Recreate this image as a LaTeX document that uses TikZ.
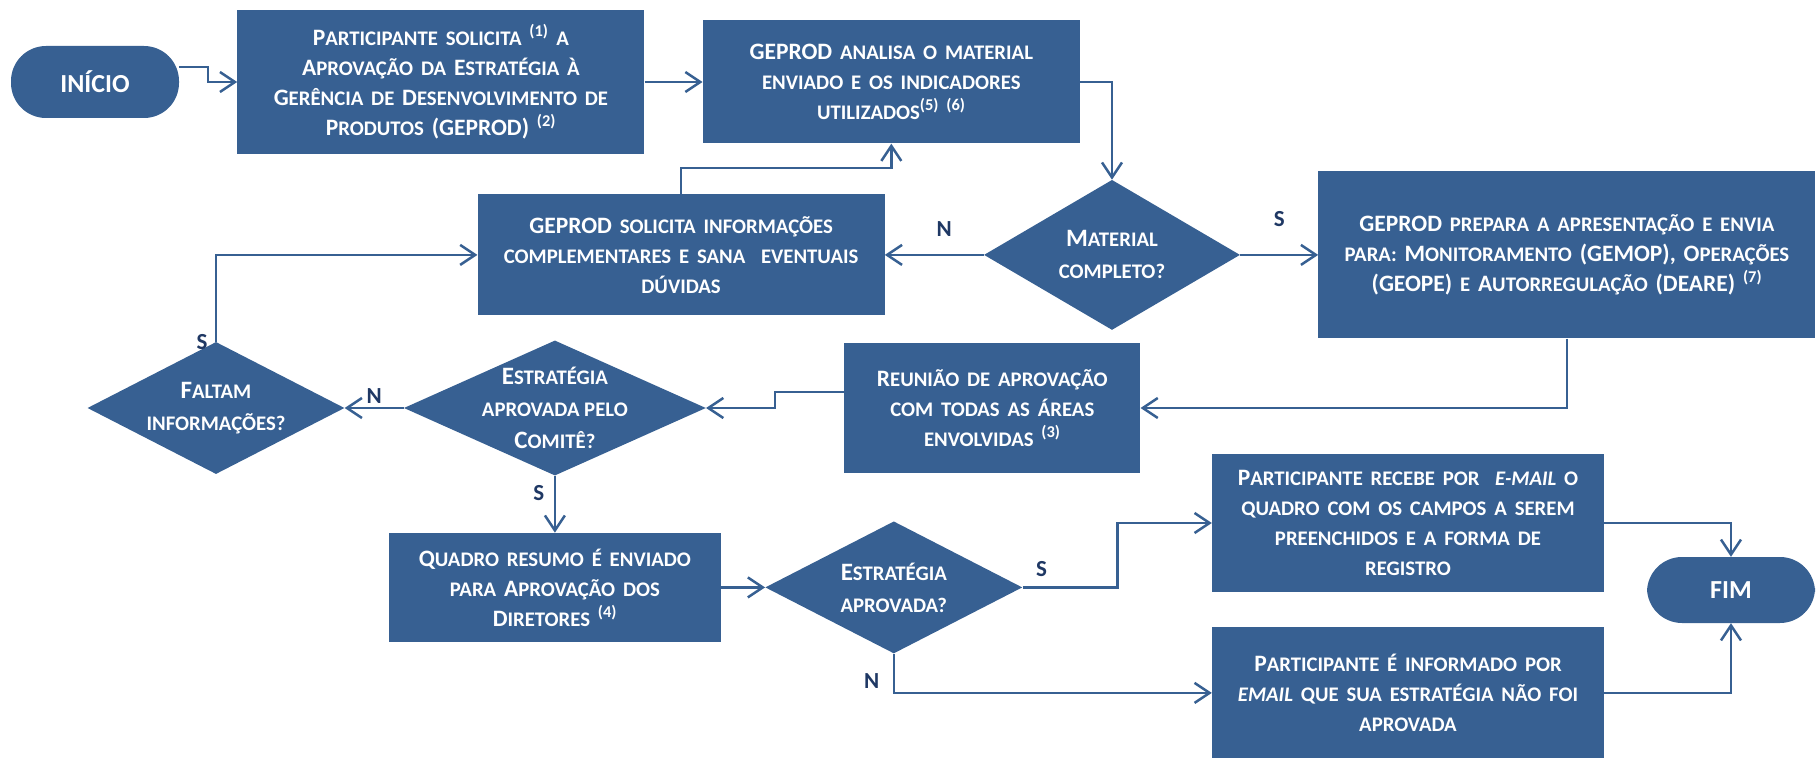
\documentclass[tikz,border=0pt]{standalone}
\usepackage{fontspec}
\usepackage{relsize}
\setmainfont{Carlito}
\usetikzlibrary{shapes.geometric, arrows.meta, positioning}

\definecolor{boxblue}{HTML}{376092}
\definecolor{lblblue}{HTML}{1F3864}
\newcommand{\sm}[1]{\textscale{0.87}{\MakeUppercase{#1}}}

\begin{document}
\begin{tikzpicture} [
						x=1pt, y=1pt,
						node distance=58pt,
						box/.style 2 args={rectangle, fill=boxblue, text=white, align=center, inner sep=0pt,
							text width=#1, minimum height=#2, font=\fontsize{23.5}{30}\selectfont\bfseries},
						decision/.style 2 args={diamond, fill=boxblue, inner sep=0pt, minimum width=#1, minimum height=#2},
						dtext/.style={text=white, align=center, font=\fontsize{25}{32}\selectfont\bfseries},
						term/.style={rectangle, rounded corners=35pt, fill=boxblue, text=white,
							minimum width=168pt, minimum height=72pt, font=\fontsize{26}{30}\selectfont\bfseries},
						lbl/.style={text=lblblue, font=\fontsize{23}{26}\selectfont\bfseries},
						flow/.style={draw=boxblue, line width=2.5pt, -{Straight Barb[length=15pt,width=20pt]}}
					]

\useasboundingbox (0,0) rectangle (1816,-759);

\node (inicio) [term] at (95,-82) {INÍCIO};
\node (solicita) [box={407pt}{144pt}, right=58pt of inicio] {P\sm{articipante solicita} \textsuperscript{(1)} \sm{a}\\A\sm{provação da} E\sm{stratégia à}\\G\sm{erência de} D\sm{esenvolvimento de}\\P\sm{rodutos} (GEPROD) \textsuperscript{(2)}};
\node (analisa) [box={377pt}{123pt}, right=58pt of solicita] {GEPROD \sm{analisa o material}\\\sm{enviado e os indicadores}\\\sm{utilizados}\textsuperscript{(5) (6)}};
\node (material) [decision={256pt}{150pt}, below=36pt of analisa.south east, xshift=32pt,
	label={[dtext]center:{M\sm{aterial}\\\sm{completo?}}}] {};
\node (solinfo) [box={407pt}{121pt}, left=99pt of material] {GEPROD \sm{solicita informações}\\\sm{complementares e sana\ \ eventuais}\\\sm{dúvidas}};
\node (prepara) [box={497pt}{167pt}, right=78pt of material] {GEPROD \sm{prepara a apresentação e envia}\\\sm{para:} M\sm{onitoramento} (GEMOP), O\sm{perações}\\(GEOPE) \sm{e} A\sm{utorregulação} (DEARE) \textsuperscript{(7)}};
\node (faltam) [decision={257pt}{132pt}, label={[dtext]center:{F\sm{altam}\\\sm{informações?}}}] at (216,-408) {};
\node (comite) [decision={302pt}{135pt}, right=59pt of faltam,
	label={[dtext]center:{E\sm{stratégia}\\\sm{aprovada pelo}\\C\sm{omitê?}}}] {};
\node (reuniao) [box={296pt}{129pt}, right=138pt of comite] {R\sm{eunião de aprovação}\\\sm{com todas as áreas}\\\sm{envolvidas} \textsuperscript{(3)}};
\node (quadro) [box={332pt}{109pt}, below=57pt of comite] {Q\sm{uadro resumo é enviado}\\\sm{para} A\sm{provação dos}\\D\sm{iretores} \textsuperscript{(4)}};
\node (aprov) [decision={257pt}{132pt}, right=44pt of quadro,
	label={[dtext]center:{E\sm{stratégia}\\\sm{aprovada?}}}] {};
\node (recebe) [box={392pt}{138pt}] at (1408,-523) {P\sm{articipante recebe por}\ \ \textit{\sm{e-mail}} \sm{o}\\\sm{quadro com os campos a serem}\\\sm{preenchidos e a forma de}\\\sm{registro}};
\node (informado) [box={392pt}{131pt}, below=35pt of recebe] {P\sm{articipante é informado por}\\\textit{\sm{email}} \sm{que sua estratégia não foi}\\\sm{aprovada}};
\node (fim) [term, minimum height=66pt] at (1731,-590) {FIM};

\draw [flow] ([yshift=15pt]inicio.east) -- ++(29,0) |- (solicita.west);
\draw [flow] (solicita) -- (analisa);
\draw [flow] (analisa.east) -| (material.north);
\draw [flow] (material.west) -- node [lbl, pos=0.4, above=14pt] {N} (solinfo.east);
\draw [flow] (material.east) -- node [lbl, above=24pt] {S} (prepara.west);
\draw [flow] (solinfo.north) -- ++(0,26) -| (analisa.south);
\draw [flow] (prepara.south) |- (reuniao.east);
\draw [flow] ([yshift=16pt]reuniao.west) -- ++(-69,0) |- (comite.east);
\draw [flow] (comite.west) -- node [lbl, above] {N} (faltam.east);
\draw [flow] (faltam.north) |- node [lbl, pos=0, left=4pt] {S} (solinfo.west);
\draw [flow] (comite.south) -- node [lbl, pos=0.3, left=6pt] {S} (quadro.north);
\draw [flow] (quadro) -- (aprov);
\draw [flow] (aprov.east) -- node [lbl, pos=0.2, above=6pt] {S} ++(95,0) |- (recebe.west);
\draw [flow] (aprov.south) |- node [lbl, pos=0.35, left=10pt] {N} (informado.west);
\draw [flow] (recebe.east) -| (fim.north);
\draw [flow] (informado.east) -| (fim.south);

\end{tikzpicture}
\end{document}
